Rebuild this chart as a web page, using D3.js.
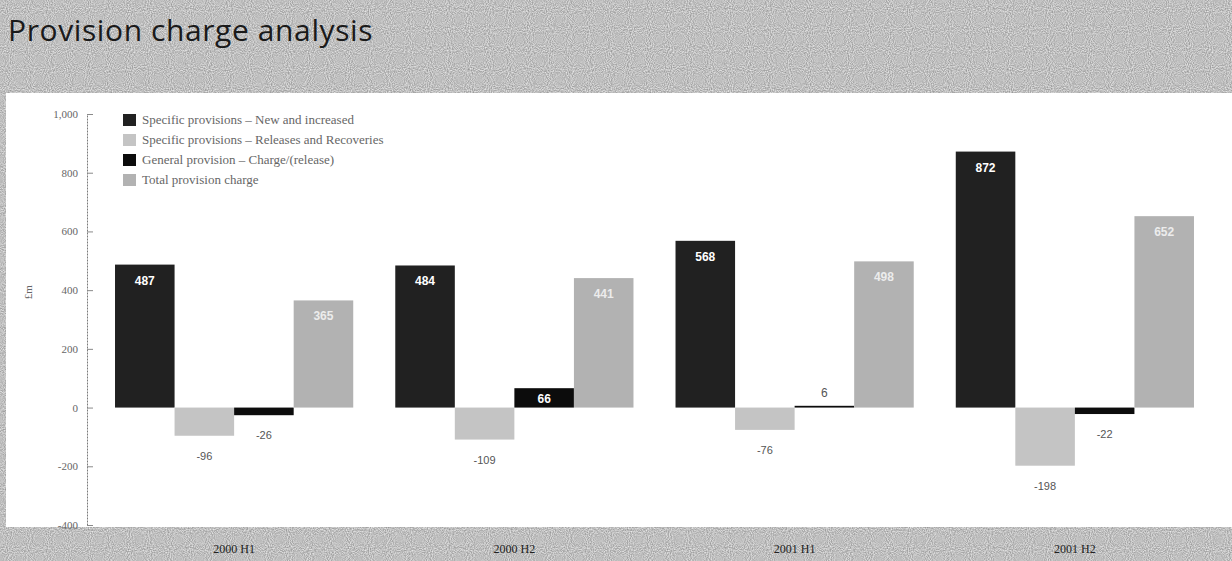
<!DOCTYPE html>
<html>
<head>
<meta charset="utf-8">
<script src="https://cdn.jsdelivr.net/npm/d3@7"></script>
<style>
  html, body { margin: 0; padding: 0; background: #c2c2c2; }
  svg { display: block; }
</style>
</head>
<body>
<svg id="chart" width="1232" height="561"></svg>
<script>
// Half-year periods
const categories = ["2000 H1", "2000 H2", "2001 H1", "2001 H2"];

// Provision movements, £m
const newAndIncreased = [487, 484, 568, 872];
const releasesAndRecoveries = [-96, -109, -76, -198];
const generalProvision = [-26, 66, 6, -22];
const totalCharge = [365, 441, 498, 652];

const seriesNames = [
  "Specific provisions \u2013 New and increased",
  "Specific provisions \u2013 Releases and Recoveries",
  "General provision \u2013 Charge/(release)",
  "Total provision charge"
];
const seriesValues = [newAndIncreased, releasesAndRecoveries, generalProvision, totalCharge];
const seriesColors = ["#212121", "#c4c4c4", "#0c0c0c", "#b2b2b2"];

const yTicks = [-400, -200, 0, 200, 400, 600, 800, 1000];

const svg = d3.select("#chart");
const W = 1232, H = 561;

// speckled grey frame
const defs = svg.append("defs");
const grain = defs.append("filter").attr("id", "grain")
  .attr("filterUnits", "userSpaceOnUse")
  .attr("color-interpolation-filters", "sRGB")
  .attr("x", 0).attr("y", 0).attr("width", W).attr("height", H);
grain.append("feTurbulence").attr("type", "fractalNoise")
  .attr("baseFrequency", 0.95).attr("numOctaves", 1).attr("seed", 3).attr("result", "n");
grain.append("feColorMatrix").attr("in", "n").attr("type", "matrix")
  .attr("values", "0.5 0 0 0 0.5  0.5 0 0 0 0.5  0.5 0 0 0 0.5  0 0 0 0 1");

svg.append("rect").attr("width", W).attr("height", H).attr("fill", "#c2c2c2");
svg.append("rect").attr("width", W).attr("height", H).attr("filter", "url(#grain)");

// white plotting panel
svg.append("rect").attr("x", 6).attr("y", 93).attr("width", W - 6).attr("height", 434).attr("fill", "#ffffff");

// title
svg.append("text")
  .attr("x", 8).attr("y", 41)
  .attr("font-family", "Open Sans, sans-serif")
  .attr("font-size", 30)
  .attr("letter-spacing", 0.6)
  .attr("fill", "#1a1a1a")
  .text("Provision charge analysis");

const y = d3.scaleLinear().domain([-400, 1000]).range([525, 114]);

const x0 = d3.scaleBand().domain(categories).range([94, 1215])
  .paddingInner(0.15).paddingOuter(0.075);
const x1 = d3.scaleBand().domain(d3.range(seriesNames.length)).range([0, x0.bandwidth()]).padding(0);

const fmt = d3.formatLocale({decimal: ".", thousands: ",", grouping: [3], currency: ["£", ""], minus: "-"}).format(",");

// y axis
const axisX = 87;
const yAxis = d3.axisLeft(y).tickValues(yTicks).tickFormat(fmt).tickSizeInner(-6).tickSizeOuter(0).tickPadding(9);
const gy = svg.append("g").attr("transform", `translate(${axisX},0)`).call(yAxis);
gy.select(".domain").attr("stroke", "#7a7a7a").attr("stroke-dasharray", "2,1");
gy.selectAll(".tick line").attr("stroke", "#8a8a8a");
gy.selectAll(".tick text")
  .attr("font-family", "Liberation Serif, serif")
  .attr("font-size", 11)
  .attr("fill", "#666");

svg.append("text")
  .attr("transform", `translate(32,${y(400) + 2}) rotate(-90)`)
  .attr("text-anchor", "middle")
  .attr("font-family", "Liberation Serif, serif")
  .attr("font-size", 11)
  .attr("fill", "#666")
  .text("£m");

// bars
const groups = svg.append("g").selectAll("g")
  .data(categories)
  .join("g")
  .attr("transform", d => `translate(${x0(d)},0)`);

const cells = groups.selectAll("g.cell")
  .data((c, i) => seriesValues.map((vals, s) => ({s, v: vals[i]})))
  .join("g").attr("class", "cell");

cells.append("rect")
  .attr("x", d => x1(d.s))
  .attr("width", x1.bandwidth())
  .attr("y", d => y(Math.max(0, d.v)))
  .attr("height", d => Math.abs(y(d.v) - y(0)))
  .attr("fill", d => seriesColors[d.s]);

const barH = d => Math.abs(y(d.v) - y(0));

cells.append("text")
  .attr("x", d => x1(d.s) + x1.bandwidth() / 2)
  .attr("y", d => {
    if (d.v < 0) return y(d.v) + 24;
    if (d.s === 2) return barH(d) > 15 ? y(0) - 5 : y(d.v) - 9;
    return y(d.v) + 20;
  })
  .attr("text-anchor", "middle")
  .attr("font-family", "Liberation Sans, Arial, sans-serif")
  .attr("font-size", d => d.v < 0 ? 11 : 12)
  .attr("font-weight", d => (d.v > 0 && (d.s !== 2 || barH(d) > 15)) ? "bold" : "normal")
  .attr("fill", d => {
    if (d.v < 0) return "#555";
    if (d.s === 0) return "#ffffff";
    if (d.s === 3) return "#ececec";
    return barH(d) > 15 ? "#ffffff" : "#555";
  })
  .text(d => fmt(d.v));

// category labels on the grey band
svg.append("g").selectAll("text")
  .data(categories)
  .join("text")
  .attr("x", d => x0(d) + x0.bandwidth() / 2)
  .attr("y", 553)
  .attr("text-anchor", "middle")
  .attr("font-family", "Liberation Serif, serif")
  .attr("font-size", 12)
  .attr("fill", "#222")
  .text(d => d);

// legend
const legend = svg.append("g").attr("transform", "translate(123,114)");
const rows = legend.selectAll("g").data(seriesNames).join("g")
  .attr("transform", (d, i) => `translate(0,${i * 20})`);
rows.append("rect").attr("width", 13).attr("height", 12).attr("fill", (d, i) => seriesColors[i]);
rows.append("text").attr("x", 19).attr("y", 10)
  .attr("font-family", "Liberation Serif, serif")
  .attr("font-size", 13)
  .attr("fill", "#666")
  .text(d => d);
</script>
</body>
</html>
